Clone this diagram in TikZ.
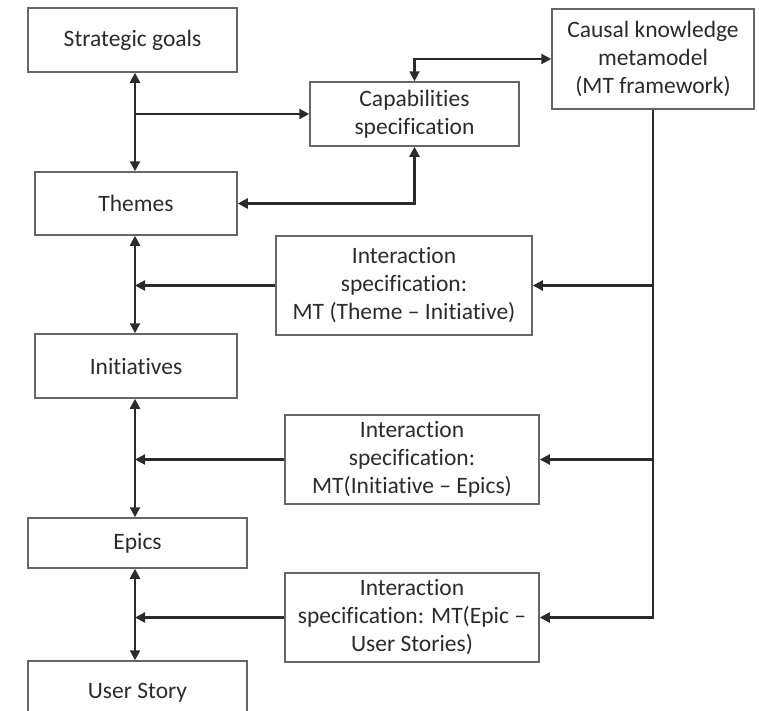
\documentclass[tikz,border=0pt]{standalone}
\usepackage{fontspec}
\setmainfont{Carlito}[Ligatures={NoCommon}]
\usetikzlibrary{arrows.meta}
\definecolor{ink}{HTML}{2B2B2B}
\definecolor{frame}{HTML}{666666}
\begin{document}
\begin{tikzpicture}[x=1pt,y=-1pt,
  box/.style={draw=frame, line width=1.5pt, fill=white, rectangle, align=center,
    inner sep=0pt, text=ink, font=\fontsize{23.5}{28}\selectfont},
  link/.style={draw=ink, line width=2.2pt, -{Triangle[width=10pt,length=10pt]}},
  dlink/.style={draw=ink, line width=2.2pt, {Triangle[width=10pt,length=10pt]}-{Triangle[width=10pt,length=10pt]}},
  wire/.style={draw=ink, line width=2.2pt}]
\useasboundingbox (0,0) rectangle (759,710);
\clip (0,0) rectangle (759,710);

% left column
\node[box, minimum width=209pt, minimum height=64pt] (sg) at (132.5,40) {Strategic goals};
\node[box, minimum width=202pt, minimum height=63pt] (th) at (136,203.5) {Themes};
\node[box, minimum width=202pt, minimum height=64pt] (in) at (136,366) {Initiatives};
\node[box, minimum width=219pt, minimum height=50pt] (ep) at (137.5,543) {Epics};
\node[box, minimum width=219pt, minimum height=64pt] (us) at (137.5,693) {User Story};

% middle and right column
\node[box, minimum width=209pt, minimum height=64pt] (cap) at (414.5,114) {Capabilities\\specification};
\node[box, minimum width=202pt, minimum height=100pt] (ck) at (653,59) {Causal knowledge\\metamodel\\(MT framework)};
\node[box, minimum width=256pt, minimum height=99pt] (i1) at (404,285.5) {Interaction\\specification:\\MT (Theme -- Initiative)};
\node[box, minimum width=254pt, minimum height=89pt] (i2) at (412,459.5) {Interaction\\specification:\\MT(Initiative -- Epics)};
\node[box, minimum width=254pt, minimum height=89pt] (i3) at (412,617.5) {Interaction\\specification: MT(Epic --\\User Stories)};

% vertical spine of the hierarchy
\coordinate (spine) at (135,0);
\draw[dlink] (sg.south -| spine) -- (th.north -| spine);
\draw[dlink] (th.south -| spine) -- (in.north -| spine);
\draw[dlink] (in.south -| spine) -- (ep.north -| spine);
\draw[dlink] (ep.south -| spine) -- (us.north -| spine);

% capabilities links
\draw[link] (cap.west -| spine) -- (cap.west);
\draw[dlink] (th.east) -| (cap.south);
\draw[dlink] (cap.north) |- (ck.west);

% interaction specifications feed the spine
\draw[link] (i1.west) -- (i1.west -| spine);
\draw[link] (i2.west) -- (i2.west -| spine);
\draw[link] (i3.west) -- (i3.west -| spine);

% causal metamodel bus
\draw[link] (ck.south) |- (i3.east);
\draw[link] (i1.east -| ck.south) -- (i1.east);
\draw[link] (i2.east -| ck.south) -- (i2.east);
\end{tikzpicture}
\end{document}
